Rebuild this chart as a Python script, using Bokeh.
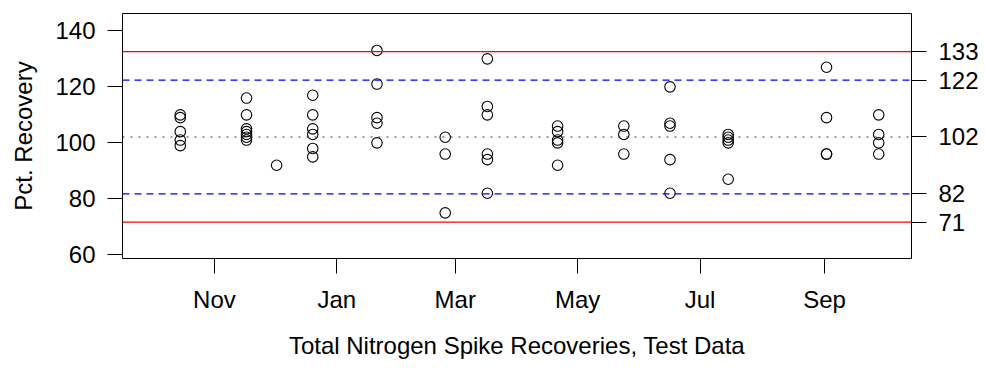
import pandas as pd
from bokeh.plotting import figure
from bokeh.models import Span, LinearAxis, FixedTicker, Range1d
from bokeh.embed import file_html
from bokeh.resources import INLINE

# ---- data ----
sample_dates = (
    ["2010-10-15"] * 5 + ["2010-11-17"] * 7 + ["2010-12-02"] + ["2010-12-20"] * 6
    + ["2011-01-21"] * 5 + ["2011-02-24"] * 3 + ["2011-03-17"] * 6
    + ["2011-04-21"] * 5 + ["2011-05-24"] * 3 + ["2011-06-16"] * 5
    + ["2011-07-15"] * 5 + ["2011-09-02"] * 4 + ["2011-09-28"] * 4
)
pct_recovery = [
    110, 109, 104, 101, 99,
    116, 110, 105, 104, 103, 102, 101,
    92,
    117, 110, 105, 103, 98, 95,
    133, 121, 109, 107, 100,
    102, 96, 75,
    130, 113, 110, 96, 94, 82,
    106, 104, 101, 100, 92,
    106, 103, 96,
    120, 107, 106, 94, 82,
    103, 102, 101, 100, 87,
    127, 109, 96, 96,
    110, 103, 100, 96,
]
center_line = 102.1
warning_limits = [81.8, 122.4]
control_limits = [71.7, 132.6]
limit_values = [132.6, 122.4, 102.1, 81.8, 71.7]
limit_labels = ["133", "122", "102", "82", "71"]
month_ticks = ["2010-11-01", "2011-01-01", "2011-03-01", "2011-05-01", "2011-07-01", "2011-09-01"]
month_labels = ["Nov", "Jan", "Mar", "May", "Jul", "Sep"]
y_ticks = [60, 80, 100, 120, 140]

FONT = "Liberation Sans"
TICK_SIZE = "24px"
LAB_SIZE = "24px"

x = pd.to_datetime(sample_dates)
tick_ms = [pd.Timestamp(d).value // 10**6 for d in month_ticks]

p = figure(width=981, height=366, x_axis_type="datetime",
           x_range=Range1d(pd.Timestamp("2010-09-16 05:00"), pd.Timestamp("2011-10-14 08:00")),
           y_range=Range1d(58.7, 146.2),
           output_backend="svg", toolbar_location=None,
           min_border_left=122, min_border_right=70, min_border_top=13, min_border_bottom=108)
p.xgrid.visible = False
p.ygrid.visible = False
p.outline_line_color = "black"
p.outline_line_alpha = 1
p.outline_line_width = 1
p.background_fill_color = "white"
p.border_fill_color = "white"

# limit lines
for v in control_limits:
    p.add_layout(Span(location=v, dimension="width", line_color="#FF0000", line_width=1.3))
for v in warning_limits:
    p.add_layout(Span(location=v, dimension="width", line_color="#0000FF", line_width=1.3, line_dash="7 5"))
p.add_layout(Span(location=center_line, dimension="width", line_color="#333333", line_width=1.2, line_dash="2 6"))

p.scatter(x, pct_recovery, marker="circle", size=10.5, fill_color=None, line_color="black", line_width=1.1)

# x axis
xa = p.xaxis[0]
xa.ticker = FixedTicker(ticks=tick_ms)
xa.major_label_overrides = {t: l for t, l in zip(tick_ms, month_labels)}
xa.bounds = (tick_ms[0], tick_ms[-1])
xa.axis_label = "Total Nitrogen Spike Recoveries, Test Data"

# y axis
ya = p.yaxis[0]
ya.ticker = FixedTicker(ticks=y_ticks)
ya.bounds = (y_ticks[0], y_ticks[-1])
ya.axis_label = "Pct. Recovery"

ra = LinearAxis(ticker=FixedTicker(ticks=limit_values),
                major_label_overrides={v: l for v, l in zip(limit_values, limit_labels)},
                bounds=(min(limit_values), max(limit_values)))
p.add_layout(ra, "right")

for ax in (xa, ya, ra):
    ax.major_tick_out = 15
    ax.major_tick_in = 0
    ax.minor_tick_line_color = None
    ax.major_tick_line_color = "black"
    ax.axis_line_color = "black"
    ax.major_label_text_font = FONT
    ax.major_label_text_font_size = TICK_SIZE
    ax.major_label_text_color = "black"
    ax.axis_label_text_font = FONT
    ax.axis_label_text_font_size = LAB_SIZE
    ax.axis_label_text_font_style = "normal"
    ax.axis_label_text_color = "black"
    ax.major_label_standoff = 12

xa.axis_label_standoff = 16
ya.axis_label_standoff = 15
ya.major_label_orientation = "horizontal"

open("out.html", "w").write(file_html(p, INLINE))
